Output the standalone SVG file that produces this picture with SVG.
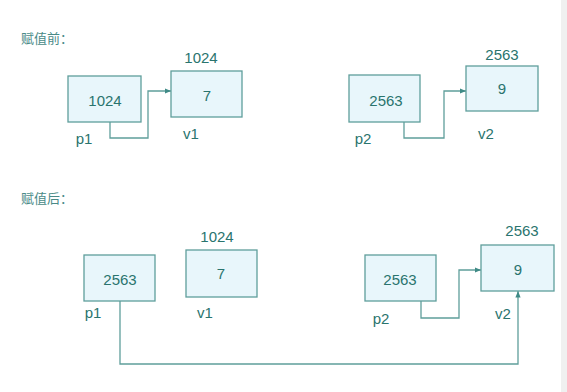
<svg xmlns="http://www.w3.org/2000/svg" width="567" height="392" viewBox="0 0 567 392">
<defs>
<style>
.box{fill:#e8f6fb;stroke:#5f9e9b;stroke-width:1.3}
.t{font-family:"Liberation Sans",Arial,sans-serif;font-size:15px;fill:#2a746e;text-anchor:middle;dominant-baseline:central}
.lbl{font-family:"Liberation Sans",Arial,sans-serif;font-size:15px;fill:#2a746e;text-anchor:middle;dominant-baseline:central}
.cn{font-family:"Noto Sans CJK SC","Noto Sans",sans-serif;font-size:13px;fill:#4a8a87;dominant-baseline:central}
.c{fill:none;stroke:#5f9e9b;stroke-width:1.3}
</style>
<marker id="ah" viewBox="0 0 10 10" refX="10" refY="5" markerWidth="5" markerHeight="5" orient="auto">
<path d="M0,1 L10,5 L0,9 z" fill="#3f8a86"/>
</marker>
</defs>
<rect width="567" height="392" fill="#ffffff"/>
<rect x="561" y="0" width="6" height="392" fill="#f0f0f0"/>
<text class="cn" x="21" y="37">赋值前：</text>
<text class="cn" x="21" y="197">赋值后：</text>
<g id="connectors">
<path class="c" d="M110,122 V138 H148 V91 H171" marker-end="url(#ah)"/>
<path class="c" d="M404,122 V138 H444 V91 H466" marker-end="url(#ah)"/>
<path class="c" d="M421,301 V318 H459 V270 H481" marker-end="url(#ah)"/>
<path class="c" d="M120,301 V364 H518 V291" marker-end="url(#ah)"/>
</g>
<g id="p1_before">
<rect class="box" x="68" y="76" width="73" height="46"/>
<text class="t" x="105" y="100">1024</text>
<text class="lbl" x="84" y="138">p1</text>
</g>
<g id="v1_before">
<rect class="box" x="171" y="71" width="71" height="46"/>
<text class="t" x="207" y="95">7</text>
<text class="lbl" x="201" y="57">1024</text>
<text class="lbl" x="191" y="133">v1</text>
</g>
<g id="p2_before">
<rect class="box" x="349" y="75" width="71" height="47"/>
<text class="t" x="386" y="100">2563</text>
<text class="lbl" x="363" y="138">p2</text>
</g>
<g id="v2_before">
<rect class="box" x="466" y="66" width="72" height="45"/>
<text class="t" x="502" y="88">9</text>
<text class="lbl" x="502" y="54">2563</text>
<text class="lbl" x="486" y="133">v2</text>
</g>
<g id="p1_after">
<rect class="box" x="84" y="255" width="71" height="46"/>
<text class="t" x="120" y="279">2563</text>
<text class="lbl" x="93" y="312">p1</text>
</g>
<g id="v1_after">
<rect class="box" x="186" y="250" width="71" height="47"/>
<text class="t" x="221" y="273">7</text>
<text class="lbl" x="217" y="236">1024</text>
<text class="lbl" x="205" y="312">v1</text>
</g>
<g id="p2_after">
<rect class="box" x="365" y="255" width="71" height="46"/>
<text class="t" x="400" y="279">2563</text>
<text class="lbl" x="381" y="318">p2</text>
</g>
<g id="v2_after">
<rect class="box" x="481" y="245" width="73" height="46"/>
<text class="t" x="518" y="269">9</text>
<text class="lbl" x="522" y="230">2563</text>
<text class="lbl" x="503" y="313">v2</text>
</g>
</svg>
